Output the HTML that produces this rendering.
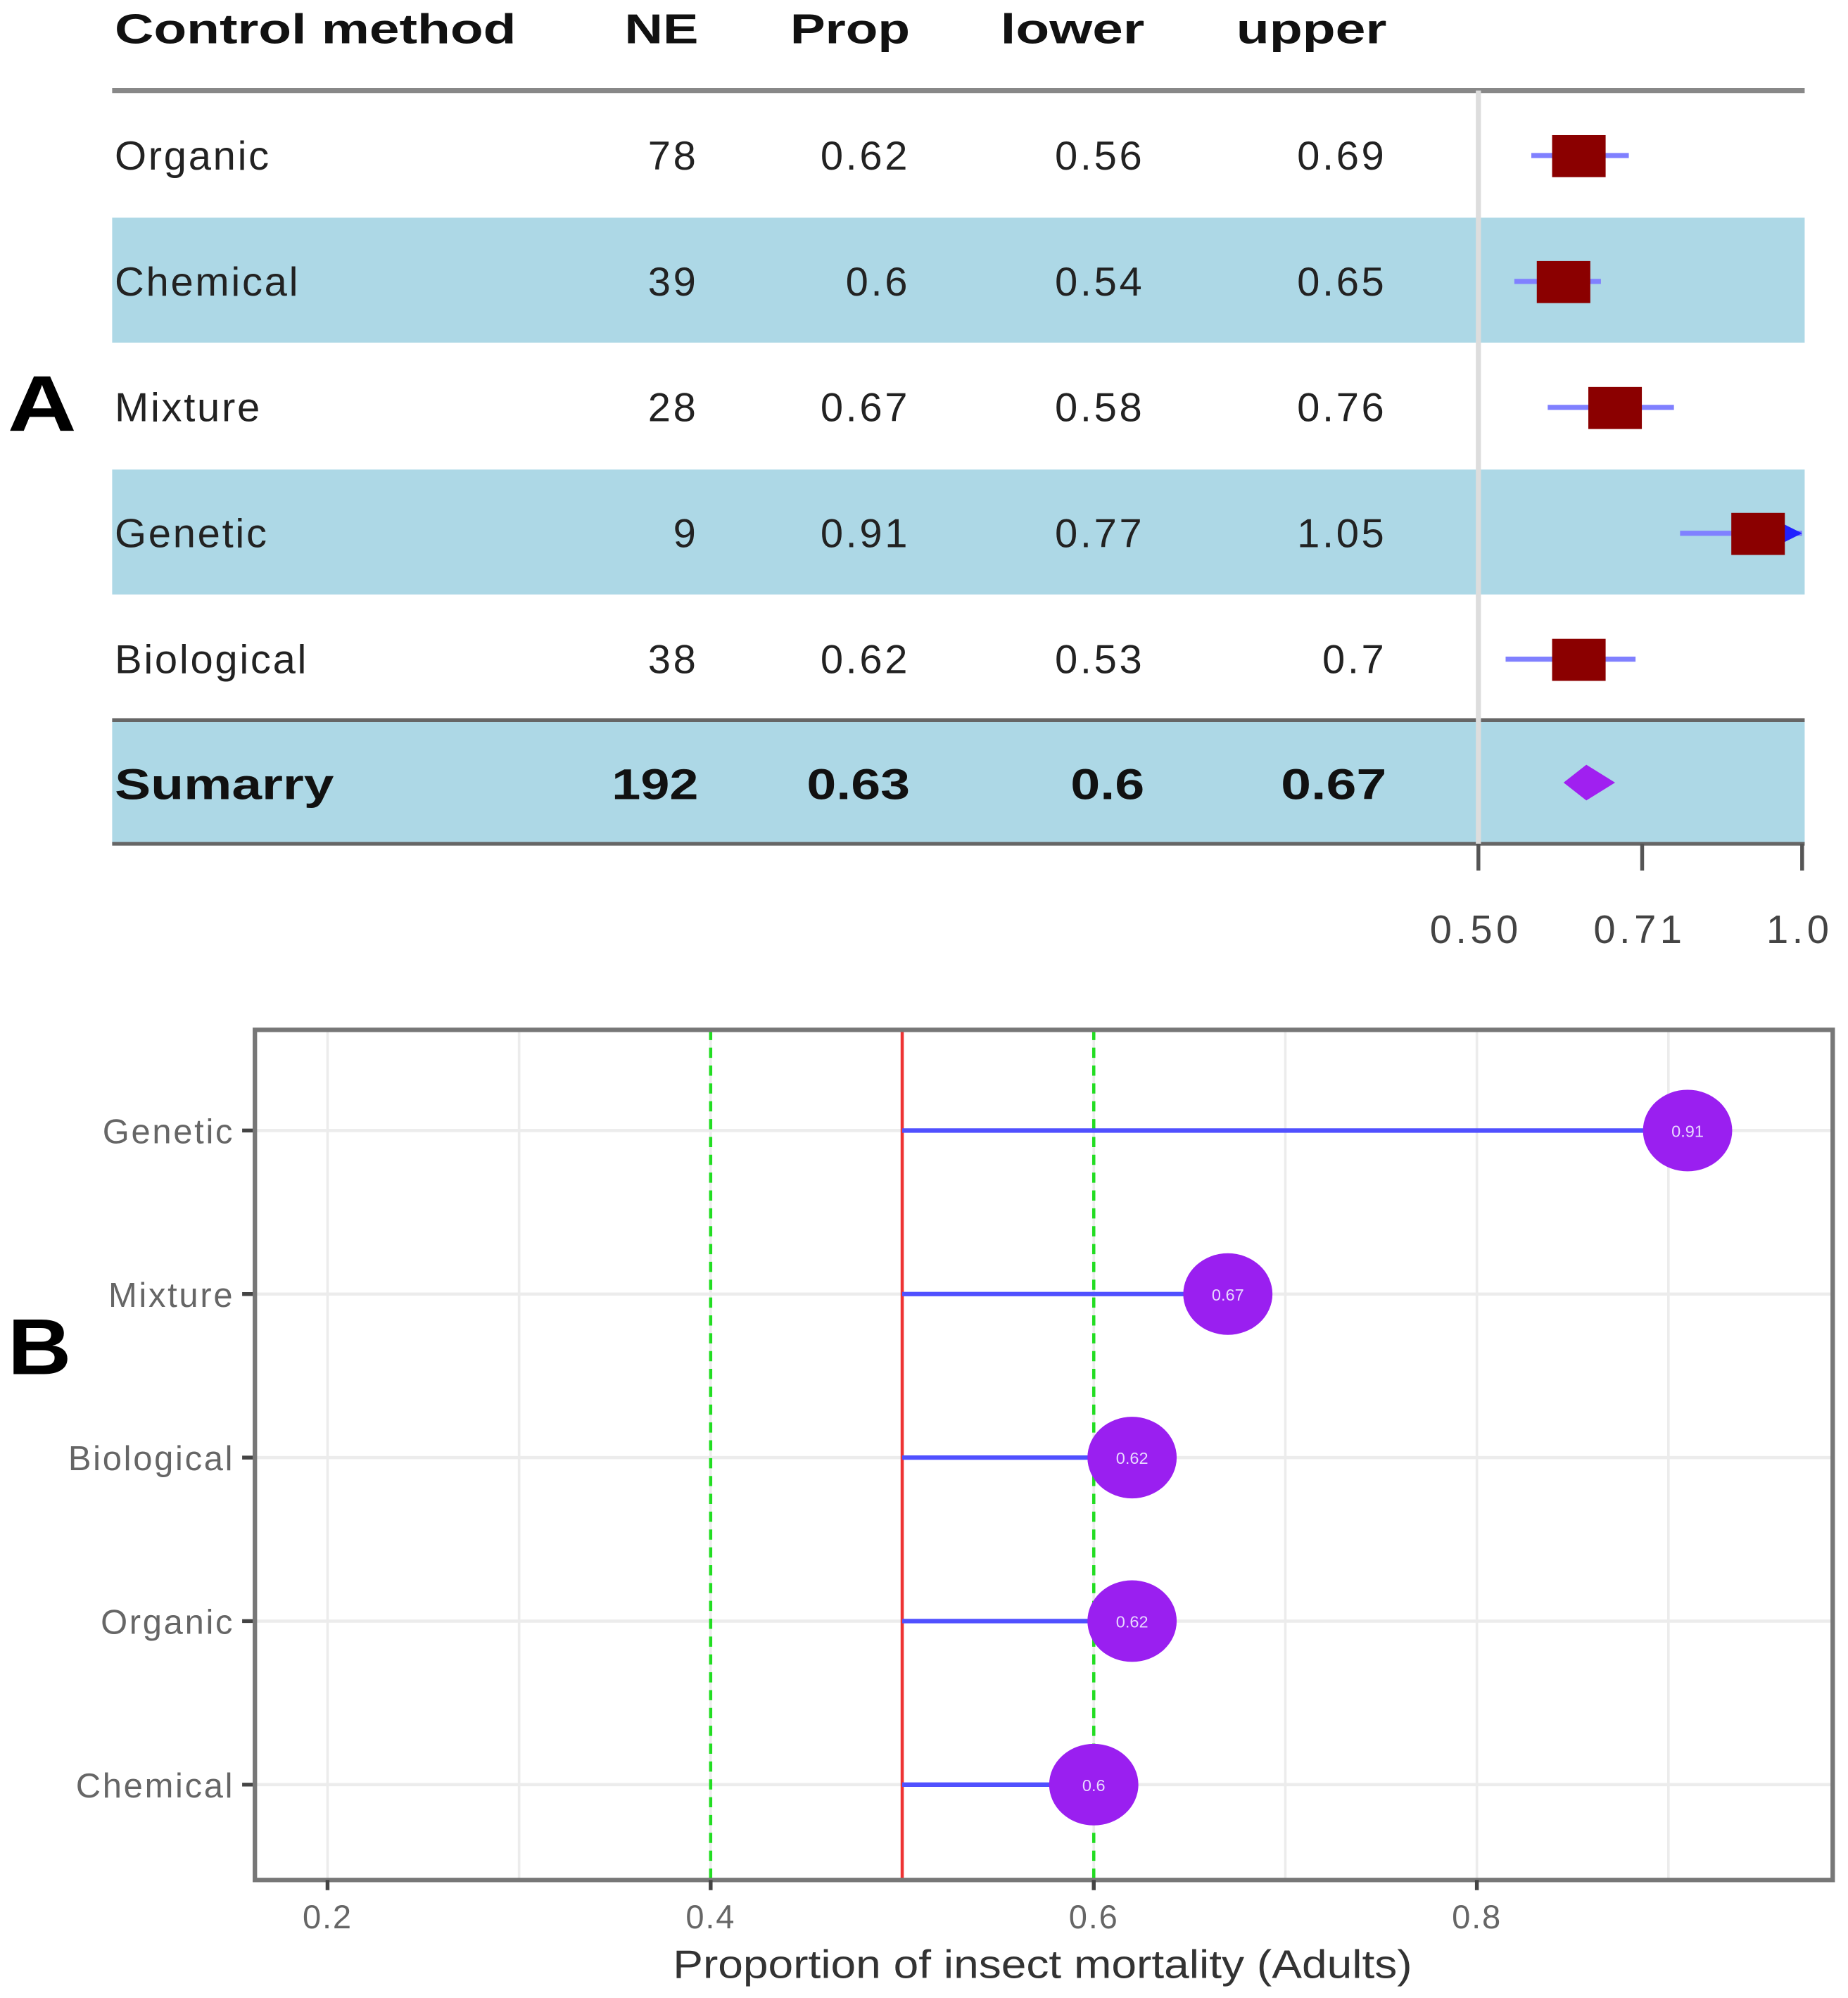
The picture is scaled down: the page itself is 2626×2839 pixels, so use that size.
<!DOCTYPE html>
<html><head><meta charset="utf-8"><style>
html,body{margin:0;padding:0;background:#fff}
svg{display:block}
text{font-family:"Liberation Sans",sans-serif}
</style></head><body>
<svg id="fig" width="2626" height="2839" viewBox="0 0 1450 1567.6" xmlns="http://www.w3.org/2000/svg">
<g id="panelA"></g>
<g id="panelB"></g>
</svg>
<script>
const methodsA=["Organic","Chemical","Mixture","Genetic","Biological"];
const neA=[78,39,28,9,38];
const propA=[0.62,0.6,0.67,0.91,0.62];
const lowerA=[0.56,0.54,0.58,0.77,0.53];
const upperA=[0.69,0.65,0.76,1.05,0.7];
const propLabels=["0.62","0.6","0.67","0.91","0.62"];
const lowerLabels=["0.56","0.54","0.58","0.77","0.53"];
const upperLabels=["0.69","0.65","0.76","1.05","0.7"];
const summary={ne:192,prop:0.63,lower:0.6,upper:0.67,labels:["192","0.63","0.6","0.67"]};
const forestTicks=[0.5,0.71,1.0];
const forestTickLabels=["0.50","0.71","1.0"];

const catsB=["Genetic","Mixture","Biological","Organic","Chemical"];
const valsB=[0.91,0.67,0.62,0.62,0.6];
const valLabelsB=["0.91","0.67","0.62","0.62","0.6"];
const xTicksB=[0.2,0.4,0.6,0.8];
const xTickLabelsB=["0.2","0.4","0.6","0.8"];
const refLine=0.5;
const greenLines=[0.4,0.6];

const NS="http://www.w3.org/2000/svg";
function mk(parent,tag,attrs,txt){const e=document.createElementNS(NS,tag);for(const k in attrs)e.setAttribute(k,attrs[k]);if(txt!==undefined)e.textContent=txt;parent.appendChild(e);return e;}

// ---------- Panel A ----------
const A=document.getElementById('panelA');
const fx=v=>{const a=Math.log(0.5),b=Math.log(1.0);return 1160+(Math.log(v)-a)/(b-a)*254;};
const rowY=i=>122+i*98.8;
let t;
t=mk(A,'text',{x:6,y:338,'font-size':62,'font-weight':'bold',fill:'#000',textLength:54,lengthAdjust:'spacingAndGlyphs'},'A');

[1,3].forEach(i=>{const r=mk(A,'rect',{x:88,y:rowY(i)-50,width:1328,height:98,fill:'#add8e6'});});
let sb=mk(A,'rect',{x:88,y:565,width:1328,height:97,fill:'#add8e6'});

const colX=[90,548,714,898,1088];
const hdr=["Control method","NE","Prop","lower","upper"];
const hdrW=[315,58,94,113,118];
hdr.forEach((h,i)=>{const e=mk(A,'text',{x:colX[i],y:34,'font-size':33,'font-weight':'bold',fill:'#111','text-anchor':i?'end':'start',textLength:hdrW[i],lengthAdjust:'spacingAndGlyphs'},h);});
let l;
l=mk(A,'line',{x1:88,x2:1416,y1:71,y2:71,stroke:'#888',"stroke-width":4});
l=mk(A,'line',{x1:88,x2:1416,y1:565,y2:565,stroke:'#666',"stroke-width":3});
l=mk(A,'line',{x1:88,x2:1416,y1:662,y2:662,stroke:'#666',"stroke-width":3});
l=mk(A,'line',{x1:fx(0.5),x2:fx(0.5),y1:71,y2:662,stroke:'#ddd',"stroke-width":4});
methodsA.forEach((m,i)=>{
  const y=rowY(i)+11;
  const vals=[m,String(neA[i]),propLabels[i],lowerLabels[i],upperLabels[i]];
  vals.forEach((v,j)=>{const e=mk(A,'text',{x:colX[j],y:y,'font-size':32,fill:'#222','text-anchor':j?'end':'start','letter-spacing':j?2:1.5},v);});
  const yc=rowY(i);
  const hi=Math.min(upperA[i],1.0);
  const ci=mk(A,'line',{x1:fx(lowerA[i]),x2:fx(hi),y1:yc,y2:yc,stroke:'#8080ff',"stroke-width":4});
  
  if(upperA[i]>1.0){const ar=mk(A,'polygon',{points:`${fx(1.0)},${yc} ${fx(1.0)-16},${yc-8} ${fx(1.0)-16},${yc+8}`,fill:'#2020ff'});}
  const bx=mk(A,'rect',{x:fx(propA[i])-21,y:yc-16,width:42,height:33,fill:'#8b0000'});
  
});
const syc=614;
const sumW=[172,68,81,58,83];
["Sumarry",...summary.labels].forEach((v,j)=>{const e=mk(A,'text',{x:colX[j],y:syc+13,'font-size':34,'font-weight':'bold',fill:'#111','text-anchor':j?'end':'start',textLength:sumW[j],lengthAdjust:'spacingAndGlyphs'},v);});
const dx1=fx(summary.lower),dx2=fx(summary.upper),dxm=fx(summary.prop);
const dm=mk(A,'polygon',{points:`${dx1},${syc} ${dxm},${syc-14} ${dx2},${syc} ${dxm},${syc+14}`,fill:'#a020f0'});

forestTicks.forEach((v,i)=>{
  const tk=mk(A,'line',{x1:fx(v),x2:fx(v),y1:662,y2:683,stroke:'#555',"stroke-width":3});
  const tl=mk(A,'text',{x:fx(v)-2,y:740,'font-size':31,fill:'#444','text-anchor':'middle','letter-spacing':3},forestTickLabels[i]);
});

// ---------- Panel B ----------
const B=document.getElementById('panelB');
const bx0=200,bx1=1438,by0=808,by1=1475;
const xB=v=>257+(v-0.2)*1503;
const yB=i=>887+i*128.3;
t=mk(B,'text',{x:6,y:1078,'font-size':62,'font-weight':'bold',fill:'#000',textLength:50,lengthAdjust:'spacingAndGlyphs'},'B');

let bg=mk(B,'rect',{x:bx0,y:by0,width:bx1-bx0,height:by1-by0,fill:'#fff'});
for(let v=0.2;v<=0.951;v+=0.1){const g=mk(B,'line',{x1:xB(v),x2:xB(v),y1:by0,y2:by1,stroke:'#ececec',"stroke-width":2});}
catsB.forEach((c,i)=>{const g=mk(B,'line',{x1:bx0,x2:bx1,y1:yB(i),y2:yB(i),stroke:'#ececec',"stroke-width":2.5});});
greenLines.forEach(v=>{const g=mk(B,'line',{x1:xB(v),x2:xB(v),y1:by0,y2:by1,stroke:'#22dd22',"stroke-width":2.5,"stroke-dasharray":"8,6"});});
let rl=mk(B,'line',{x1:xB(refLine),x2:xB(refLine),y1:by0,y2:by1,stroke:'#ee3333',"stroke-width":2.5});
catsB.forEach((c,i)=>{
  const y=yB(i);
  const s=mk(B,'line',{x1:xB(refLine),x2:xB(valsB[i]),y1:y,y2:y,stroke:'#5050ff',"stroke-width":3.5});
  const p=mk(B,'ellipse',{cx:xB(valsB[i]),cy:y,rx:35,ry:32,fill:'#9a1ff0'});
  const vl=mk(B,'text',{x:xB(valsB[i]),y:y+5,'font-size':13,fill:'#e8d8ff','text-anchor':'middle'},valLabelsB[i]);
  const tk=mk(B,'line',{x1:190,x2:bx0,y1:y,y2:y,stroke:'#444',"stroke-width":3});
  const yl=mk(B,'text',{x:184,y:y+10,'font-size':27,fill:'#666','text-anchor':'end','letter-spacing':1.5},c);
});
let fr=mk(B,'rect',{x:bx0,y:by0,width:bx1-bx0,height:by1-by0,fill:'none',stroke:'#777',"stroke-width":3.5});
xTicksB.forEach((v,i)=>{
  const tk=mk(B,'line',{x1:xB(v),x2:xB(v),y1:by1,y2:by1+8,stroke:'#444',"stroke-width":3});
  const tl=mk(B,'text',{x:xB(v),y:1513,'font-size':26,fill:'#666','text-anchor':'middle','letter-spacing':1},xTickLabelsB[i]);
});
t=mk(B,'text',{x:818,y:1552,'font-size':31,fill:'#333','text-anchor':'middle',textLength:580,lengthAdjust:'spacingAndGlyphs'},'Proportion of insect mortality (Adults)');

</script>
</body></html>
